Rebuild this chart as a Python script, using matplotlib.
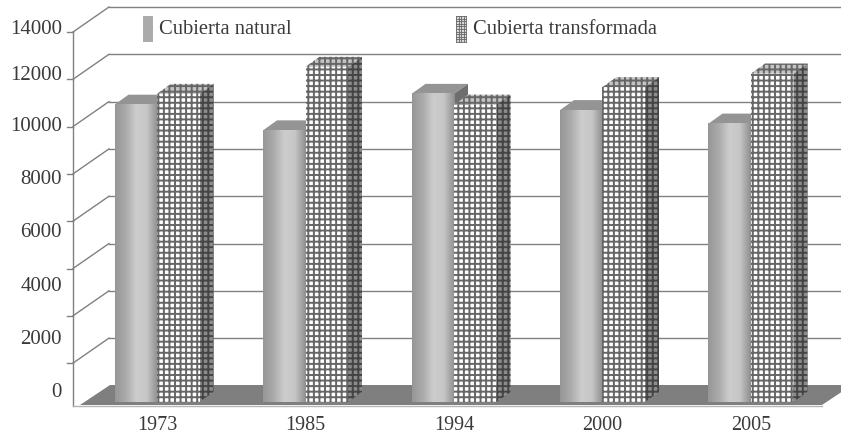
import numpy as np
import matplotlib
matplotlib.use("Agg")
import matplotlib.pyplot as plt
from matplotlib.colors import LinearSegmentedColormap
from matplotlib.patches import Polygon, Rectangle

years = ["1973", "1985", "1994", "2000", "2005"]
natural = [11000, 10050, 11400, 10800, 10300]
transformed = [11400, 12400, 11000, 11650, 12150]
label_values = [0, 2000, 4000, 6000, 8000, 10000, 12000, 14000]
label_rows = [390, 337, 284, 230, 177, 124, 73, 27]  # hand placed in the original
legend_labels = ["Cubierta natural", "Cubierta transformada"]

W, H = 841, 435
GREY = "#808080"
TEXT = "#3a3a3a"

plt.rcParams["font.family"] = ["Liberation Serif", "DejaVu Serif"]
plt.rcParams["hatch.linewidth"] = 1.4

fig = plt.figure(figsize=(W / 100, H / 100), dpi=100, facecolor="white")

# Background layer in pixel coordinates: walls, floor and legend
bg = fig.add_axes([0, 0, 1, 1], zorder=0)
bg.set_xlim(0, W)
bg.set_ylim(H, 0)
bg.axis("off")

for k in range(8):
    back = 8 + 47.3 * k
    bg.plot([109, W], [back, back], color=GREY, lw=1.0)
    bg.plot([73, 109], [back + 25, back], color=GREY, lw=1.0)
    bg.plot([67, 73], [back + 25, back + 25], color=GREY, lw=1.0)
bg.plot([73, 73], [33, 407], color=GREY, lw=1.0)
bg.add_patch(Polygon([(80, 406), (110, 386), (852, 386), (822, 406)],
                     facecolor="#7f7f7f", edgecolor="none"))
bg.plot([73, 822], [406.5, 406.5], color="#b5b5b5", lw=1.0)

# Legend
bg.add_patch(Rectangle((143, 17), 10, 26, facecolor="#ababab", edgecolor="none"))
bg.add_patch(Rectangle((456, 17), 10, 26, facecolor="#d8d8d8", edgecolor="none"))
for gx in np.arange(456, 467, 2.6):
    bg.plot([gx, gx], [17, 43], color="#666666", lw=0.6)
for gy in np.arange(17, 44, 2.6):
    bg.plot([456, 466], [gy, gy], color="#666666", lw=0.6)
bg.text(159, 29.5, legend_labels[0], fontsize=14.8, color=TEXT, va="center")
bg.text(473, 29.5, legend_labels[1], fontsize=14.8, color=TEXT, va="center")

# Bars, 148.5 px per category, 1750 units per 47.3 px
px_x = 148.5
px_y = 47.3 / 1750
x0 = 157
base = 403
bar_w = 42.5 / px_x
dx = 14 / px_x
dy = 10 / px_y

ax = fig.add_axes([73 / W, (H - base) / H, (W - 73) / W, base / H], zorder=1)
ax.patch.set_alpha(0)
for s in ax.spines.values():
    s.set_visible(False)
ax.set_yticks([])
ax.set_xticks(range(len(years)))
ax.set_xticklabels(years, fontsize=14.5, color=TEXT)
ax.tick_params(axis="x", length=0, pad=9.5)

xs = np.arange(len(years))
shade = LinearSegmentedColormap.from_list(
    "cyl", ["#979797", "#ababab", "#cdcdcd", "#c6c6c6", "#8f8f8f"])
grad = np.linspace(0, 1, 64).reshape(1, -1)

for i in xs:
    n, t = natural[i], transformed[i]
    # natural bar: gradient front, flat top and side
    ax.add_patch(Polygon([(i - bar_w, n), (i, n), (i + dx, n + dy), (i - bar_w + dx, n + dy)],
                         facecolor="#949494", edgecolor="none"))
    ax.add_patch(Polygon([(i, 0), (i, n), (i + dx, n + dy), (i + dx, dy)],
                         facecolor="#6e6e6e", edgecolor="none"))
    ax.imshow(grad, cmap=shade, aspect="auto", extent=(i - bar_w, i, 0, n), zorder=2)
    # transformed bar: hatched front, top and side
    ax.add_patch(Polygon([(i, t), (i + bar_w, t), (i + bar_w + dx, t + dy), (i + dx, t + dy)],
                         facecolor="#c4c4c4", edgecolor="#666666", hatch="+++", lw=0, zorder=3))
    ax.add_patch(Polygon([(i + bar_w, 0), (i + bar_w, t), (i + bar_w + dx, t + dy), (i + bar_w + dx, dy)],
                         facecolor="#8c8c8c", edgecolor="#444444", hatch="+++", lw=0, zorder=3))
    ax.bar(i, t, width=bar_w, align="edge", facecolor="white", edgecolor="#666666",
           hatch="+++", lw=0, zorder=3)

ax.set_xlim((73 - x0) / px_x, (W - x0) / px_x)
ax.set_ylim(0, base / px_y)

# Printed scale sits on its own rows, not on the tick marks
lab = ax.twinx()
lab.set_ylim(base, 0)
lab.yaxis.tick_left()
lab.set_yticks(label_rows)
lab.set_yticklabels([str(v) for v in label_values], fontsize=15, color=TEXT)
lab.tick_params(axis="y", length=0, pad=8)
for s in lab.spines.values():
    s.set_visible(False)

fig.savefig("out.png", dpi=100)
